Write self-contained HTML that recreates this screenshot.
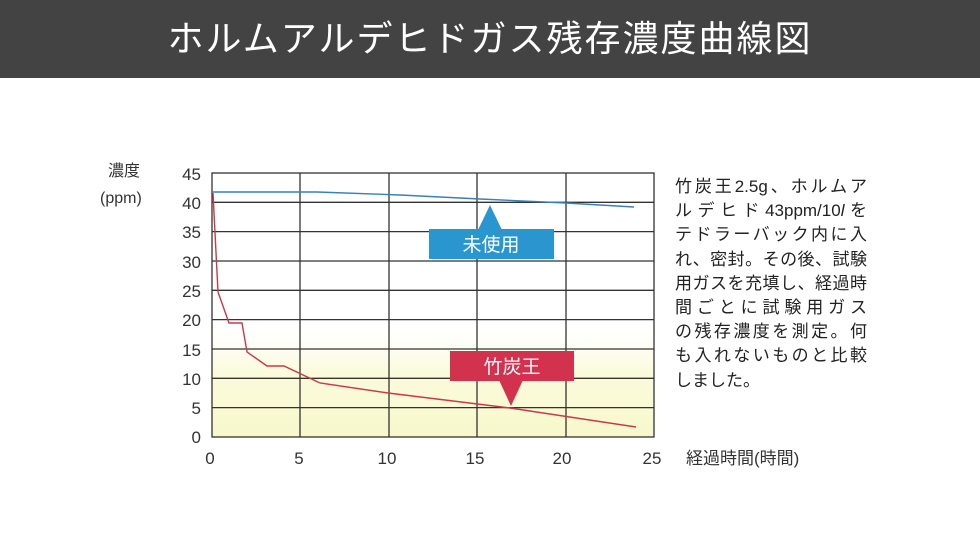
<!DOCTYPE html>
<html><head><meta charset="utf-8"><style>
html,body{margin:0;padding:0;background:#fff;}
body{width:980px;height:551px;position:relative;overflow:hidden;font-family:"Liberation Sans","Noto Sans CJK JP",sans-serif;}
.bar{position:absolute;left:0;top:0;width:980px;height:78px;background:#434343;color:#fff;font-size:36px;text-align:center;line-height:78px;letter-spacing:2px;}
.desc{position:absolute;left:675px;top:175px;width:192px;font-size:17px;color:#222;line-height:24.2px;}
.desc div{text-align:justify;text-align-last:justify;height:24.2px;white-space:nowrap;}
</style></head><body>
<div class="bar">ホルムアルデヒドガス残存濃度曲線図</div>
<svg width="980" height="551" style="position:absolute;left:0;top:0" font-family="Liberation Sans, Noto Sans CJK JP, sans-serif">
<defs><linearGradient id="g" x1="0" y1="0" x2="0" y2="1">
<stop offset="0" stop-color="#fbfbe6" stop-opacity="0"/><stop offset="0.4" stop-color="#fbfbdc"/><stop offset="1" stop-color="#f8f8cc"/></linearGradient></defs>
<rect x="212" y="330" width="442" height="107" fill="url(#g)"/>
<g stroke="#333" stroke-width="1.3" fill="none">
<rect x="212" y="173" width="442" height="264"/>
<line x1="300" y1="173" x2="300" y2="437"/><line x1="389" y1="173" x2="389" y2="437"/>
<line x1="477" y1="173" x2="477" y2="437"/><line x1="566" y1="173" x2="566" y2="437"/>
<line x1="212" y1="202.3" x2="654" y2="202.3"/><line x1="212" y1="231.6" x2="654" y2="231.6"/>
<line x1="212" y1="261" x2="654" y2="261"/><line x1="212" y1="290.3" x2="654" y2="290.3"/>
<line x1="212" y1="319.6" x2="654" y2="319.6"/><line x1="212" y1="349" x2="654" y2="349"/>
<line x1="212" y1="378.3" x2="654" y2="378.3"/><line x1="212" y1="407.6" x2="654" y2="407.6"/>
</g>
<polyline fill="none" stroke="#3a7fb5" stroke-width="1.4" points="212,192 317,192 400,195 480,199 566,203 634,207"/>
<polyline fill="none" stroke="#c8394a" stroke-width="1.4" points="213,193 218,292 229,323 242,323 247,352 267,366 284,366 320,383 388,393 510,408 636,427"/>
<g fill="#333" font-size="17" text-anchor="end">
<text x="201" y="180">45</text><text x="201" y="209">40</text><text x="201" y="238">35</text>
<text x="201" y="268">30</text><text x="201" y="297">25</text><text x="201" y="326">20</text>
<text x="201" y="356">15</text><text x="201" y="385">10</text><text x="201" y="414">5</text><text x="201" y="443">0</text>
</g>
<g fill="#333" font-size="17" text-anchor="middle">
<text x="210" y="464">0</text><text x="299" y="464">5</text><text x="387" y="464">10</text>
<text x="475" y="464">15</text><text x="562" y="464">20</text><text x="652" y="464">25</text>
</g>
<text x="686" y="464" font-size="17" fill="#333">経過時間(時間)</text>
<text x="108" y="176" font-size="16" fill="#333">濃度</text>
<text x="100" y="203" font-size="16" fill="#333">(ppm)</text>
<rect x="429" y="229" width="125" height="30" fill="#2a96cf"/>
<polygon points="478,230 490,205 502,230" fill="#2a96cf"/>
<text x="491" y="251" font-size="19" fill="#fff" text-anchor="middle">未使用</text>
<rect x="450" y="351" width="124" height="30" fill="#d3324f"/>
<polygon points="499,380 511,406 523,380" fill="#d3324f"/>
<text x="512" y="373" font-size="19" fill="#fff" text-anchor="middle">竹炭王</text>
</svg>
<div class="desc">
<div>竹炭王2.5g、ホルムア</div>
<div>ルデヒド43ppm/10<i>l</i>を</div>
<div>テドラーバック内に入</div>
<div>れ、密封。その後、試験</div>
<div>用ガスを充填し、経過時</div>
<div>間ごとに試験用ガス</div>
<div>の残存濃度を測定。何</div>
<div>も入れないものと比較</div>
<div style="text-align-last:left">しました。</div>
</div>
</body></html>
